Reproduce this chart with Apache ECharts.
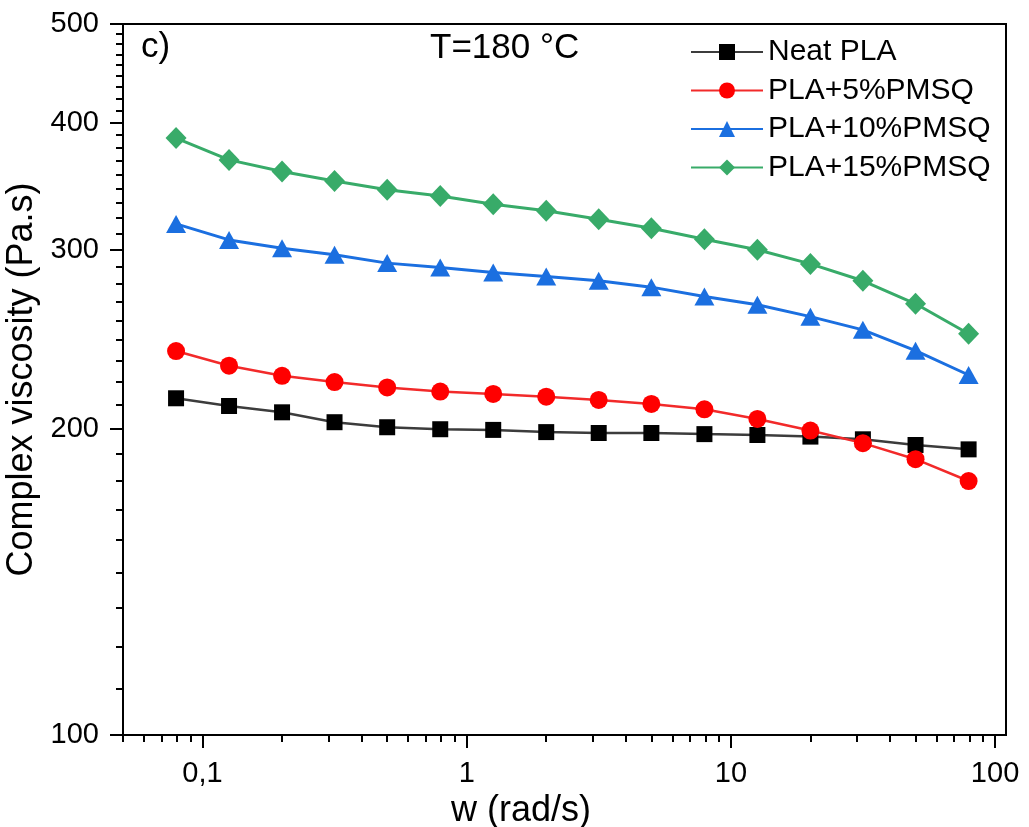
<!DOCTYPE html>
<html lang="en">
<head>
  <meta charset="UTF-8">
  <title>Complex viscosity, T=180 °C</title>
  <style>
    html, body { margin: 0; padding: 0; background: #fff; }
    #chart { width: 1029px; height: 827px; }
  </style>
</head>
<body>
  <div id="chart"></div>
  <script src="https://cdn.jsdelivr.net/npm/echarts@6/dist/echarts.min.js"></script>
  <script>
    // angular frequency (rad/s), 5 points per decade
    const freq = [0.0794, 0.126, 0.2, 0.316, 0.5, 0.794, 1.26, 2, 3.16, 5, 7.94, 12.6, 20, 31.6, 50, 79.4]
    // complex viscosity (Pa.s)
    const neatPLA = [214.3, 210.6, 207.6, 203.0, 200.7, 199.8, 199.5, 198.5, 198.1, 198.1, 197.6, 197.2, 196.5, 195.3, 192.8, 190.9]
    const pla5 = [238.5, 230.7, 225.5, 222.3, 219.6, 217.6, 216.4, 215.1, 213.5, 211.6, 209.0, 204.5, 199.2, 193.6, 186.7, 177.7]
    const pla10 = [318.0, 306.7, 301.0, 296.5, 291.0, 288.1, 284.9, 282.3, 279.6, 275.6, 269.8, 264.8, 257.8, 250.2, 238.7, 225.9]
    const pla15 = [386.2, 367.6, 358.0, 350.5, 343.5, 338.8, 332.5, 327.7, 321.4, 314.9, 307.2, 299.9, 290.5, 279.6, 265.4, 248.0]

    const seriesNames = ['Neat PLA', 'PLA+5%PMSQ', 'PLA+10%PMSQ', 'PLA+15%PMSQ']

    // axis ticks
    const xMajor = [0.1, 1, 10, 100]
    const xLabels = ['0,1', '1', '10', '100']
    const xMinor = [0.05, 0.06, 0.07, 0.08, 0.09, 0.2, 0.3, 0.4, 0.5, 0.6, 0.7, 0.8, 0.9,
      2, 3, 4, 5, 6, 7, 8, 9, 20, 30, 40, 50, 60, 70, 80, 90]
    const yMajor = [100, 200, 300, 400, 500]
    const yLabels = ['100', '200', '300', '400', '500']
    const xMin = 0.05, xMax = 110, yMin = 100, yMax = 500

    // 8 minor ticks between the major ones (Origin style)
    let yMinor = []
    for (let i = 0; i < yMajor.length - 1; i++) {
      for (let k = 1; k <= 8; k++) {
        yMinor.push(yMajor[i] + k * (yMajor[i + 1] - yMajor[i]) / 9)
      }
    }

    const lg = v => Math.log10(v)
    const font = "'Liberation Sans', Arial, sans-serif"

    function pickLabel(majors, labels) {
      return function (v) {
        for (let i = 0; i < majors.length; i++) {
          if (Math.abs(lg(majors[i]) - v) < 1e-6) return labels[i]
        }
        return ''
      }
    }

    let myChart = echarts.init(document.getElementById('chart'), null, { renderer: 'canvas' })

    // tick-only overlay axes (value axes in log10 space, same grid)
    function tickAxis(min, max, pos, values, len, extra) {
      return Object.assign({
        type: 'value',
        gridIndex: 0,
        position: pos,
        min: lg(min),
        max: lg(max),
        axisLine: { show: false, onZero: false },
        splitLine: { show: false },
        axisTick: {
          show: true,
          customValues: values.map(lg),
          length: len,
          lineStyle: { color: '#000', width: 2 }
        },
        axisLabel: { show: false }
      }, extra || {})
    }

    function makeSeries(name, values, symbol, size, color, lineColor, width) {
      return {
        name: name,
        type: 'line',
        xAxisIndex: 0,
        yAxisIndex: 0,
        data: freq.map((f, i) => [f, values[i]]),
        symbol: symbol,
        symbolSize: size,
        itemStyle: { color: color },
        lineStyle: { color: lineColor, width: width },
        emphasis: { disabled: true },
        animation: false
      }
    }

    let option = {
      animation: false,
      textStyle: { fontFamily: font },
      grid: {
        left: 123,
        top: 24,
        width: 883,
        height: 711,
        containLabel: false,
        outerBoundsMode: 'none',
        show: true,
        borderColor: '#000',
        borderWidth: 2,
        backgroundColor: 'transparent'
      },
      legend: {
        data: seriesNames,
        orient: 'vertical',
        left: 685,
        top: 32,
        itemWidth: 72,
        itemHeight: 20,
        itemGap: 8.5,
        textStyle: { fontSize: 30, color: '#000', fontFamily: font },
        selectedMode: false
      },
      graphic: [
        {
          type: 'text', left: 141, top: 30,
          style: { text: 'c)', font: '35px ' + font, fill: '#000' }
        },
        {
          type: 'text', left: 430, top: 31,
          style: { text: 'T=180 °C', font: '35px ' + font, fill: '#000' }
        }
      ],
      xAxis: [
        {
          type: 'log',
          gridIndex: 0,
          position: 'bottom',
          min: xMin,
          max: xMax,
          axisLine: { show: true, onZero: false, lineStyle: { color: '#000', width: 2 } },
          axisTick: { show: false },
          axisLabel: { show: false },
          splitLine: { show: false }
        },
        tickAxis(xMin, xMax, 'bottom', xMajor, 13, {
          axisLabel: {
            show: true,
            customValues: xMajor.map(lg),
            formatter: pickLabel(xMajor, xLabels),
            fontSize: 29,
            color: '#000',
            margin: 24,
            fontFamily: font
          },
          name: 'w (rad/s)',
          nameLocation: 'middle',
          nameGap: 44,
          nameTextStyle: { fontSize: 36, color: '#000', fontFamily: font, padding: [0, 87, 0, 0] }
        }),
        tickAxis(xMin, xMax, 'bottom', xMinor, 7)
      ],
      yAxis: [
        {
          type: 'log',
          gridIndex: 0,
          position: 'left',
          min: yMin,
          max: yMax,
          axisLine: { show: true, onZero: false, lineStyle: { color: '#000', width: 2 } },
          axisTick: { show: false },
          axisLabel: { show: false },
          splitLine: { show: false }
        },
        tickAxis(yMin, yMax, 'left', yMajor, 13, {
          axisLabel: {
            show: true,
            customValues: yMajor.map(lg),
            formatter: pickLabel(yMajor, yLabels),
            fontSize: 29,
            color: '#000',
            margin: 24,
            fontFamily: font
          },
          name: 'Complex viscosity (Pa.s)',
          nameLocation: 'middle',
          nameGap: 74,
          nameTextStyle: { fontSize: 36, color: '#000', fontFamily: font }
        }),
        tickAxis(yMin, yMax, 'left', yMinor, 7)
      ],
      series: [
        makeSeries(seriesNames[0], neatPLA, 'rect', 16, '#000000', '#3c3c3c', 2.5),
        makeSeries(seriesNames[1], pla5, 'circle', 18, '#ff0000', '#f22a2a', 2.5),
        makeSeries(seriesNames[2], pla10, 'triangle', [20, 18], '#1b6fe0', '#1b6fe0', 3),
        makeSeries(seriesNames[3], pla15, 'diamond', [21, 22], '#38ab69', '#38ab69', 3)
      ]
    }
    myChart.setOption(option)
  </script>
</body>
</html>
